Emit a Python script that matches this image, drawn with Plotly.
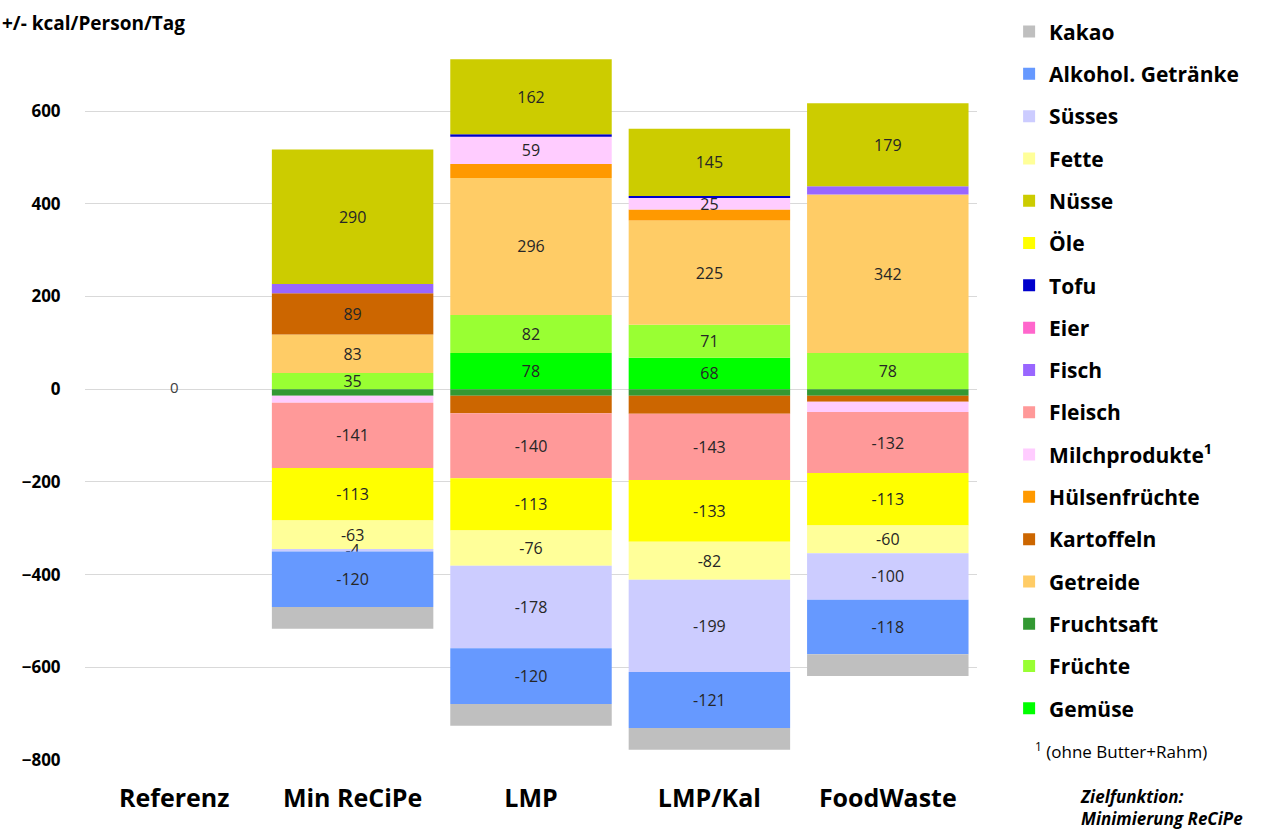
import plotly.graph_objects as go

# Szenarien (x-Achse)
categories = ["Referenz", "Min ReCiPe", "LMP", "LMP/Kal", "FoodWaste"]

# Veränderung gegenüber Referenz, kcal/Person/Tag, in Stapelreihenfolge
gemuese = [0, 0, 78, 68, 0]
fruechte = [0, 35, 82, 71, 78]
fruchtsaft = [0, -14, -14, -14, -14]
getreide = [0, 83, 296, 225, 342]
kartoffeln = [0, 89, -38, -39, -13]
huelsenfruechte = [0, 0, 30, 24, 0]
milchprodukte = [0, -15, 59, 25, -22]
fleisch = [0, -141, -140, -143, -132]
fisch = [0, 20, 0, 0, 18]
eier = [0, 0, 0, 0, 0]
tofu = [0, 0, 5, 4, 0]
oele = [0, -113, -113, -133, -113]
nuesse = [0, 290, 162, 145, 179]
fette = [0, -63, -76, -82, -60]
suesses = [0, -4, -178, -199, -100]
alkohol = [0, -120, -120, -121, -118]
kakao = [0, -47, -47, -47, -47]

# Referenzwert
referenz_wert = [0]

y_ticks = [-800, -600, -400, -200, 0, 200, 400, 600]

# name, values, colour, label positive parts, label negative parts
series = [
    ("Gemüse", gemuese, "#00FF00", True, False),
    ("Früchte", fruechte, "#99FF33", True, False),
    ("Fruchtsaft", fruchtsaft, "#339933", False, False),
    ("Getreide", getreide, "#FFCC66", True, False),
    ("Kartoffeln", kartoffeln, "#CC6600", True, False),
    ("Hülsenfrüchte", huelsenfruechte, "#FF9900", False, False),
    ("Milchprodukte<sup>1</sup>", milchprodukte, "#FFCCFF", True, False),
    ("Fleisch", fleisch, "#FF9999", False, True),
    ("Fisch", fisch, "#9966FF", False, False),
    ("Eier", eier, "#FF66CC", False, False),
    ("Tofu", tofu, "#0000CC", False, False),
    ("Öle", oele, "#FFFF00", False, True),
    ("Nüsse", nuesse, "#CCCC00", True, False),
    ("Fette", fette, "#FFFF99", False, True),
    ("Süsses", suesses, "#CCCCFF", False, True),
    ("Alkohol. Getränke", alkohol, "#6699FF", False, True),
    ("Kakao", kakao, "#BFBFBF", False, False),
]

FONT = "Open Sans"
LABEL_SIZE = 16

fig = go.Figure()
for i, (name, vals, color, lab_pos, lab_neg) in enumerate(series):
    texts = []
    for v in vals:
        if (v > 0 and lab_pos) or (v < 0 and lab_neg):
            texts.append(str(v))
        else:
            texts.append("")
    fig.add_trace(go.Bar(
        x=categories, y=vals, name=name,
        marker=dict(color=color, line=dict(width=0)),
        text=texts, textposition="inside", insidetextanchor="middle",
        textangle=0,
        insidetextfont=dict(family=FONT, size=LABEL_SIZE, color="#262626"),
        legendgroup=f"g{i}",
        legendrank=1000 - i,
        hoverinfo="name+y",
    ))

fig.add_trace(go.Scatter(
    x=categories[:1], y=referenz_wert, mode="text",
    text=[str(v) for v in referenz_wert],
    textposition="middle center",
    textfont=dict(family=FONT, size=15, color="#404040"),
    showlegend=False, hoverinfo="skip",
))

fig.update_layout(
    width=1267, height=830,
    barmode="relative", bargap=0.095,
    plot_bgcolor="white", paper_bgcolor="white",
    margin=dict(l=85, r=290, t=36, b=70),
    uniformtext=dict(minsize=LABEL_SIZE, mode="show"),
    font=dict(family=FONT, color="#000000"),
    legend=dict(
        traceorder="grouped", tracegroupgap=12,
        x=1.036, xanchor="left", y=1.034, yanchor="top",
        font=dict(family=FONT, size=21, color="#000000", weight="bold"),
        itemwidth=30, bgcolor="rgba(0,0,0,0)", maxheight=820,
    ),
    showlegend=True,
)

fig.update_xaxes(
    showgrid=False, showline=False, zeroline=False,
    ticks="outside", ticklen=16, tickcolor="rgba(0,0,0,0)",
    tickfont=dict(family=FONT, size=25, color="#000000", weight="bold"),
)
fig.update_yaxes(
    range=[-800, 760], tickvals=y_ticks,
    showgrid=True, gridcolor="#D9D9D9", gridwidth=1,
    zeroline=True, zerolinecolor="#D9D9D9", zerolinewidth=1,
    showline=False,
    ticks="outside", ticklen=20, tickcolor="rgba(0,0,0,0)",
    tickfont=dict(family=FONT, size=17, color="#000000", weight="bold"),
)

fig.add_annotation(
    text="<b>+/- kcal/Person/Tag</b>", xref="paper", yref="paper",
    x=-0.0953, y=1.019, xanchor="left", yanchor="middle", showarrow=False,
    font=dict(family=FONT, size=19, color="#000000"),
)
fig.add_annotation(
    text="<sup>1</sup> (ohne Butter+Rahm)", xref="paper", yref="paper",
    x=1.0628, y=0.0138, xanchor="left", yanchor="middle", showarrow=False,
    font=dict(family=FONT, size=17, color="#000000"),
)
fig.add_annotation(
    text="<b><i>Zielfunktion:<br>Minimierung ReCiPe</i></b>", xref="paper", yref="paper",
    x=1.113, y=-0.066, xanchor="left", yanchor="middle", showarrow=False,
    align="left",
    font=dict(family=FONT, size=17, color="#000000"),
)

fig.write_html("out.html")
